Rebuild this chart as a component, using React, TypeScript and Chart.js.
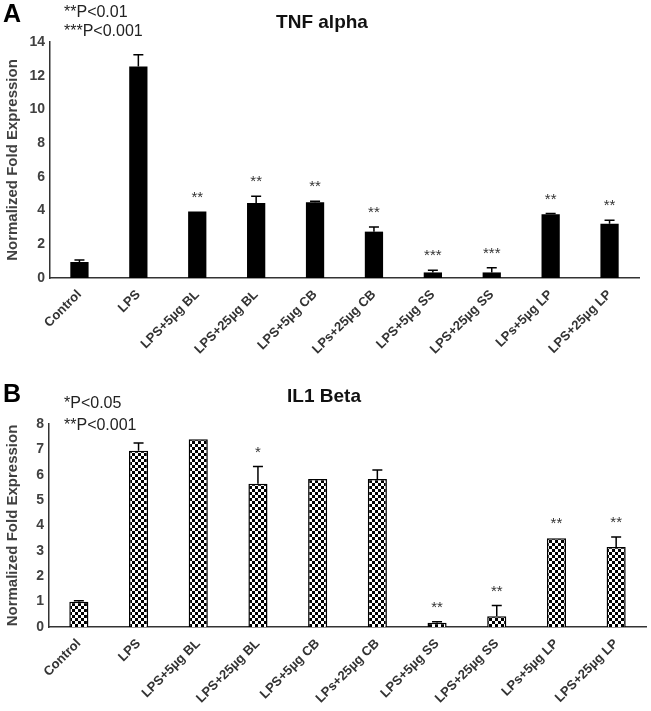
import React, { useEffect, useRef } from 'react';
import { Chart, registerables } from 'chart.js';
Chart.register(...registerables);

const categories = ['Control', 'LPS', 'LPS+5µg BL', 'LPS+25µg BL', 'LPS+5µg CB', 'LPs+25µg CB', 'LPS+5µg SS', 'LPS+25µg SS', 'LPs+5µg LP', 'LPS+25µg LP'];

const tnfValues = [0.95, 12.55, 3.95, 4.45, 4.5, 2.75, 0.33, 0.33, 3.78, 3.22];
const tnfErrors = [0.12, 0.7, 0, 0.4, 0.06, 0.27, 0.13, 0.28, 0.05, 0.2];
const tnfStars = ['', '', '**', '**', '**', '**', '***', '***', '**', '**'];
const tnfNotes = ['**P<0.01', '***P<0.001'];

const il1Values = [1.0, 6.95, 7.4, 5.65, 5.83, 5.83, 0.17, 0.42, 3.5, 3.15];
const il1Errors = [0.03, 0.3, 0, 0.68, 0, 0.36, 0.04, 0.43, 0, 0.4];
const il1Stars = ['', '', '', '*', '', '', '**', '**', '**', '**'];
const il1Notes = ['*P<0.05', '**P<0.001'];

const FONT = "'Liberation Sans', Arial, sans-serif";

const annotPlugin = {
  id: 'annot',
  afterDatasetsDraw(chart: any, _args: any, o: any) {
    const { ctx } = chart;
    const x = chart.scales.x;
    const y = chart.scales.y;
    ctx.save();
    ctx.strokeStyle = '#000';
    ctx.lineWidth = 1.5;
    o.values.forEach((v: number, i: number) => {
      const e = o.errors[i];
      const px = x.getPixelForValue(i);
      const top = y.getPixelForValue(v + e);
      if (e > 0) {
        const y0 = y.getPixelForValue(v);
        ctx.beginPath();
        ctx.moveTo(px, y0);
        ctx.lineTo(px, top);
        ctx.moveTo(px - 5, top);
        ctx.lineTo(px + 5, top);
        ctx.stroke();
      }
      const s = o.stars[i];
      if (s) {
        ctx.fillStyle = '#333';
        ctx.font = `15px ${FONT}`;
        ctx.textAlign = 'center';
        ctx.textBaseline = 'middle';
        ctx.fillText(s, px, top - 14);
      }
    });
    ctx.restore();
  },
  afterDraw(chart: any, _args: any, o: any) {
    const { ctx } = chart;
    ctx.save();
    ctx.textBaseline = 'alphabetic';
    ctx.fillStyle = '#000';
    ctx.font = `bold 25px ${FONT}`;
    ctx.textAlign = 'left';
    ctx.fillText(o.letter, 3, o.letterY);
    ctx.fillStyle = '#222';
    ctx.font = `16px ${FONT}`;
    ctx.fillText(o.notes[0], 64, o.noteY[0]);
    ctx.fillText(o.notes[1], 64, o.noteY[1]);
    ctx.fillStyle = '#111';
    ctx.font = `bold 19px ${FONT}`;
    ctx.textAlign = 'center';
    ctx.fillText(o.title, o.titleX, o.titleY);
    ctx.restore();
  },
};

function makePattern(): CanvasPattern | string {
  const pc = document.createElement('canvas');
  pc.width = 6;
  pc.height = 6;
  const c = pc.getContext('2d');
  if (!c) return '#000';
  c.fillStyle = '#fff';
  c.fillRect(0, 0, 6, 6);
  c.fillStyle = '#000';
  c.fillRect(0, 0, 3, 3);
  c.fillRect(3, 3, 3, 3);
  return c.createPattern(pc, 'repeat') || '#000';
}

function ChartPanel(props: any) {
  const ref = useRef<HTMLCanvasElement>(null);
  useEffect(() => {
    if (!ref.current) return;
    const p = props;
    const chart = new Chart(ref.current, {
      type: 'bar',
      data: {
        labels: categories,
        datasets: [
          {
            data: p.values,
            backgroundColor: p.checker ? makePattern() : '#000',
            borderColor: '#000',
            borderWidth: p.checker ? 1.5 : 0,
            barPercentage: p.barPct,
            categoryPercentage: 1,
          },
        ],
      },
      options: {
        responsive: false,
        animation: false,
        layout: { padding: { left: 0, right: p.padRight, top: p.padTop, bottom: 0 } },
        plugins: {
          legend: { display: false },
          title: { display: false },
          tooltip: { enabled: false },
          annot: {
            values: p.values,
            errors: p.errors,
            stars: p.stars,
            notes: p.notes,
            letter: p.letter,
            letterY: p.letterY,
            noteY: p.noteY,
            title: p.title,
            titleX: p.titleX,
            titleY: p.titleY,
          },
        } as any,
        scales: {
          x: {
            grid: { display: false, drawTicks: false },
            border: { display: true, color: '#333', width: 1.5 },
            ticks: {
              autoSkip: false,
              minRotation: 45,
              maxRotation: 45,
              padding: 9,
              color: '#333',
              font: { family: FONT, size: 13, weight: 'bold' },
            },
            afterFit: (s: any) => {
              s.height = p.xHeight;
            },
          },
          y: {
            min: 0,
            max: p.yMax,
            grid: { display: false, drawTicks: false },
            border: { display: true, color: '#333', width: 1.5 },
            ticks: {
              stepSize: p.yStep,
              padding: 5,
              color: '#404040',
              font: { family: FONT, size: 14, weight: 'bold' },
            },
            title: {
              display: true,
              text: 'Normalized Fold Expression',
              color: '#404040',
              font: { family: FONT, size: 15, weight: 'bold' },
              padding: { top: 4, bottom: 0 },
            },
            afterFit: (s: any) => {
              s.width = p.yWidth;
            },
          },
        },
      },
      plugins: [annotPlugin],
    });
    return () => chart.destroy();
  }, []);
  return (
    <canvas
      ref={ref}
      width={651}
      height={props.height}
      style={{ position: 'absolute', left: 0, top: props.top, width: 651, height: props.height }}
    />
  );
}

export default function App() {
  return (
    <div style={{ position: 'absolute', left: 0, top: 0, width: 651, height: 711, background: '#fff' }}>
      <ChartPanel
        top={0}
        height={375}
        values={tnfValues}
        errors={tnfErrors}
        stars={tnfStars}
        notes={tnfNotes}
        letter="A"
        letterY={22}
        noteY={[17, 36]}
        title="TNF alpha"
        titleX={322}
        titleY={28}
        checker={false}
        barPct={0.31}
        padRight={12}
        padTop={42}
        xHeight={97}
        yWidth={50}
        yMax={14}
        yStep={2}
      />
      <ChartPanel
        top={375}
        height={336}
        values={il1Values}
        errors={il1Errors}
        stars={il1Stars}
        notes={il1Notes}
        letter="B"
        letterY={27}
        noteY={[33, 55]}
        title="IL1 Beta"
        titleX={324}
        titleY={27}
        checker={true}
        barPct={0.32}
        padRight={5}
        padTop={49}
        xHeight={84}
        yWidth={49}
        yMax={8}
        yStep={1}
      />
    </div>
  );
}
